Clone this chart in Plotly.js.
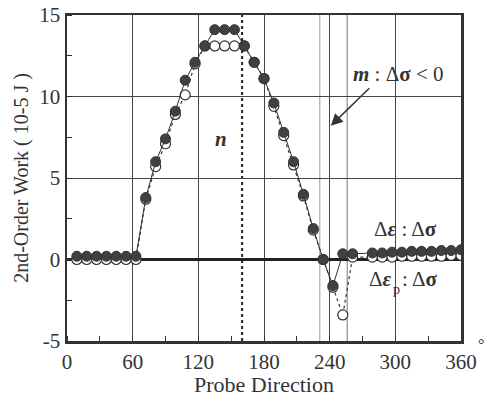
<!DOCTYPE html>
<html>
<head>
<meta charset="utf-8">
<script src="https://cdn.plot.ly/plotly-3.0.1.min.js"></script>
<style>html,body{margin:0;padding:0;background:#fff;}#chart{width:487px;height:397px;}</style>
</head>
<body>
<div id="chart"></div>
<script>
// Probe directions (degrees)
const directions = [9,18,27,36,45,54,63,72,81,90,99,108,117,126,135,144,153,162,171,180,189,198,207,216,225,234,243,252,261,279,288,297,306,315,324,333,342,351,360];
// Δε : Δσ (filled circles)
const workTotal = [0.2,0.2,0.2,0.2,0.2,0.2,0.2,3.8,6.0,7.4,9.1,11.0,12.1,13.1,14.1,14.1,14.1,13.1,12.1,11.1,9.6,7.8,6.0,4.0,1.9,0.0,-1.6,0.35,0.35,0.4,0.4,0.45,0.45,0.5,0.5,0.5,0.55,0.55,0.6];
// Δεp : Δσ (open circles)
const workPlastic = [0.0,0.0,0.0,0.0,0.0,0.0,0.0,3.7,5.7,7.1,8.9,10.1,12.0,13.1,13.1,13.1,13.1,13.1,12.1,11.1,9.4,7.6,5.8,3.9,1.8,0.0,-1.7,-3.4,0.15,0.15,0.15,0.15,0.2,0.2,0.2,0.2,0.2,0.25,0.25];
const xTicks = [0,60,120,180,240,300,360];
const yTicks = [-5,0,5,10,15];
const nLine = 160;
const mLines = [231,256];

const ink = '#333';
const serif = 'Liberation Serif, Times New Roman, serif';

const traces = [
  {x: directions, y: workPlastic, mode: 'lines+markers', type: 'scatter',
   line: {color: ink, width: 1.2, dash: 'dot'},
   marker: {size: 10, color: '#fff', line: {color: ink, width: 1.2}}},
  {x: directions, y: workTotal, mode: 'lines+markers', type: 'scatter',
   line: {color: ink, width: 1},
   marker: {size: 10, color: '#404040', line: {color: '#333', width: 1}}}
];

const shapes = [
  {type: 'line', xref: 'x', yref: 'y', x0: nLine, x1: nLine, y0: -5, y1: 15,
   line: {color: '#222', width: 2, dash: 'dot'}, layer: 'below'},
  ...mLines.map((v, i) => ({type: 'line', xref: 'x', yref: 'y', x0: v, x1: v, y0: -5, y1: 15,
   line: {color: i === 0 ? '#999' : '#777', width: 1}, layer: 'below'}))
];

const lab = {size: 21, family: serif, color: '#333'};

const layout = {
  width: 487, height: 397,
  margin: {l: 67, r: 26, t: 15, b: 56},
  paper_bgcolor: '#fff', plot_bgcolor: '#fff',
  showlegend: false,
  font: {family: serif, color: '#333'},
  xaxis: {
    range: [0, 360], tickvals: xTicks, ticktext: xTicks.map(String),
    showgrid: true, gridcolor: '#444', gridwidth: 1,
    showline: true, linecolor: ink, linewidth: 2.5, mirror: true,
    ticks: '', zeroline: false,
    minor: {dtick: 30, tick0: 0, ticks: 'inside', ticklen: 5, tickcolor: ink, showgrid: false},
    tickfont: {size: 21, family: serif, color: '#333'},
    title: {text: 'Probe Direction', font: {size: 22, family: serif, color: '#333'}, standoff: 2}
  },
  yaxis: {
    range: [-5, 15], tickvals: yTicks, ticktext: yTicks.map(String),
    showgrid: true, gridcolor: '#444', gridwidth: 1,
    showline: true, linecolor: ink, linewidth: 2.5, mirror: true,
    ticks: '', zeroline: true, zerolinecolor: '#222', zerolinewidth: 3,
    minor: {dtick: 2.5, tick0: 0, ticks: 'inside', ticklen: 5, tickcolor: ink, showgrid: false},
    tickfont: {size: 21, family: serif, color: '#333'},
    title: {text: '2nd-Order Work ( 10-5 J )', font: {size: 20, family: serif, color: '#333'}, standoff: 6}
  },
  shapes: shapes,
  annotations: [
    {x: 241, y: 8.2, xref: 'x', yref: 'y', ax: 40, ay: -39, text: '', showarrow: true,
     arrowhead: 2, arrowsize: 1.6, arrowwidth: 1.5, arrowcolor: '#333'},
    {x: 0.72, y: 0.82, xref: 'paper', yref: 'paper', xanchor: 'left', yanchor: 'middle',
     text: '<b><i>m</i></b> : Δ<b>σ</b> &lt; 0', showarrow: false, font: lab},
    {x: 141, y: 7.4, xref: 'x', yref: 'y', text: '<b><i>n</i></b>', showarrow: false, font: lab},
    {x: 0.775, y: 0.345, xref: 'paper', yref: 'paper', xanchor: 'left', yanchor: 'middle',
     text: 'Δ<b><i>ε</i></b> : Δ<b>σ</b>', showarrow: false, font: lab},
    {x: 0.829, y: 0.19, xref: 'paper', yref: 'paper', xanchor: 'right', yanchor: 'middle',
     text: 'Δ<b><i>ε</i></b>', showarrow: false, font: lab},
    {x: 0.822, y: 0.158, xref: 'paper', yref: 'paper', xanchor: 'left', yanchor: 'middle',
     text: 'p', showarrow: false, font: {size: 14, family: serif, color: '#333'}},
    {x: 0.845, y: 0.19, xref: 'paper', yref: 'paper', xanchor: 'left', yanchor: 'middle',
     text: ': Δ<b>σ</b>', showarrow: false, font: lab},
    {x: 1.05, y: -0.01, xref: 'paper', yref: 'paper', xanchor: 'center', yanchor: 'middle',
     text: '°', showarrow: false, font: {size: 16, family: serif, color: '#333'}}
  ]
};

Plotly.newPlot('chart', traces, layout, {staticPlot: true, displayModeBar: false});
</script>
</body>
</html>
